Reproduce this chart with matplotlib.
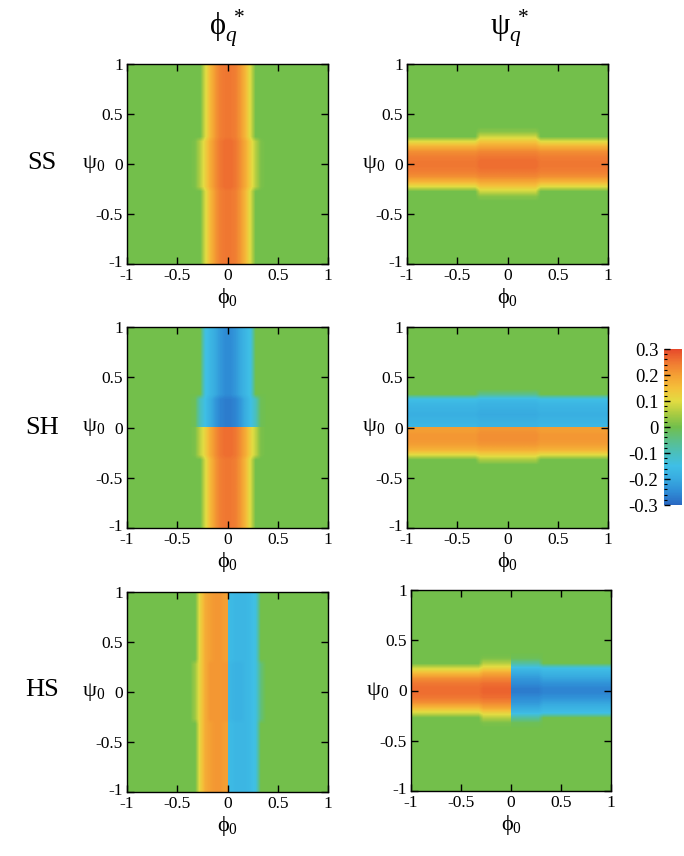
import numpy as np
import matplotlib
matplotlib.use("Agg")
import matplotlib.pyplot as plt
from matplotlib.colors import LinearSegmentedColormap, Normalize
from matplotlib.ticker import MultipleLocator
from matplotlib.transforms import ScaledTranslation

plt.rcParams["font.family"] = ["Liberation Serif", "DejaVu Serif"]
plt.rcParams["mathtext.fontset"] = "custom"
plt.rcParams["mathtext.rm"] = "Liberation Serif"
plt.rcParams["mathtext.it"] = "Liberation Serif:italic"
plt.rcParams["axes.unicode_minus"] = False

# cell centres of the 40x40 grid on [-1, 1]
centres = np.arange(-0.975, 1.0, 0.05)
# band cross-section cells: offsets -0.325 ... 0.325 (14 cells)
band_offsets = [-0.325, -0.275, -0.225, -0.175, -0.125, -0.075, -0.025,
                0.025, 0.075, 0.125, 0.175, 0.225, 0.275, 0.325]

# profiles across the band
# (core part of the band, and the slightly wider part near the band centre)
ss_phi_core = [0, 0, 0.09, 0.16, 0.21, 0.24, 0.25, 0.25, 0.24, 0.21, 0.16, 0.09, 0, 0]
ss_phi_bulge = [0.01, 0.06, 0.12, 0.18, 0.22, 0.25, 0.26, 0.26, 0.25, 0.22, 0.18, 0.12, 0.06, 0.01]

ss_psi_core = [0, 0, 0.10, 0.17, 0.22, 0.24, 0.25, 0.25, 0.24, 0.22, 0.17, 0.10, 0, 0]
ss_psi_bulge = [0.02, 0.08, 0.14, 0.19, 0.23, 0.25, 0.26, 0.26, 0.25, 0.23, 0.19, 0.14, 0.08, 0.02]

sh_phi_lo_core = [0, 0, 0.09, 0.16, 0.21, 0.24, 0.25, 0.25, 0.24, 0.21, 0.16, 0.09, 0, 0]
sh_phi_lo_bulge = [0.01, 0.07, 0.12, 0.18, 0.22, 0.25, 0.26, 0.26, 0.25, 0.22, 0.18, 0.12, 0.07, 0.01]
sh_phi_up_bulge = [-0.01, -0.10, -0.15, -0.19, -0.23, -0.26, -0.27, -0.27, -0.26, -0.23, -0.19, -0.15, -0.10, -0.01]
sh_phi_up_core = [0, 0, -0.14, -0.17, -0.20, -0.23, -0.25, -0.25, -0.23, -0.20, -0.17, -0.14, 0, 0]

sh_psi_core = [0, 0.10, 0.17, 0.20, 0.21, 0.21, 0.20, -0.17, -0.18, -0.19, -0.18, -0.17, -0.15, 0]
sh_psi_bulge = [0.05, 0.12, 0.18, 0.21, 0.22, 0.22, 0.21, -0.18, -0.19, -0.20, -0.19, -0.18, -0.16, -0.05]

hs_phi_core = [0, 0.12, 0.18, 0.20, 0.21, 0.21, 0.20, -0.16, -0.17, -0.17, -0.17, -0.16, -0.14, 0]
hs_phi_bulge = [0.04, 0.12, 0.18, 0.21, 0.21, 0.21, 0.21, -0.17, -0.18, -0.18, -0.17, -0.16, -0.14, -0.04]

hs_psi_lo_core = [0, 0, 0.09, 0.16, 0.22, 0.25, 0.26, 0.26, 0.25, 0.22, 0.16, 0.09, 0, 0]
hs_psi_lo_bulge = [0.01, 0.06, 0.12, 0.19, 0.23, 0.26, 0.27, 0.27, 0.26, 0.23, 0.19, 0.12, 0.06, 0.01]
hs_psi_up_bulge = [-0.01, -0.07, -0.16, -0.20, -0.23, -0.25, -0.27, -0.27, -0.25, -0.23, -0.20, -0.16, -0.07, -0.01]
hs_psi_up_core = [0, 0, -0.15, -0.18, -0.21, -0.24, -0.26, -0.26, -0.24, -0.21, -0.18, -0.15, 0, 0]

# (orientation, half length of the wide part, core-, bulge-, bulge+, core+)
panels = {
    ("SS", "phi"): ("v", 0.25, ss_phi_core, ss_phi_bulge, ss_phi_bulge, ss_phi_core),
    ("SS", "psi"): ("h", 0.30, ss_psi_core, ss_psi_bulge, ss_psi_bulge, ss_psi_core),
    ("SH", "phi"): ("v", 0.30, sh_phi_lo_core, sh_phi_lo_bulge, sh_phi_up_bulge, sh_phi_up_core),
    ("SH", "psi"): ("h", 0.30, sh_psi_core, sh_psi_bulge, sh_psi_bulge, sh_psi_core),
    ("HS", "phi"): ("v", 0.30, hs_phi_core, hs_phi_bulge, hs_phi_bulge, hs_phi_core),
    ("HS", "psi"): ("h", 0.30, hs_psi_lo_core, hs_psi_lo_bulge, hs_psi_up_bulge, hs_psi_up_core),
}

rows = ["SS", "SH", "HS"]

# axes boxes in pixels: left, top, right, bottom
boxes = {
    ("SS", "phi"): (127, 64, 328, 264), ("SS", "psi"): (407, 64, 608, 264),
    ("SH", "phi"): (127, 327, 328, 528), ("SH", "psi"): (407, 327, 608, 528),
    ("HS", "phi"): (127, 592, 328, 792), ("HS", "psi"): (411, 590, 611, 791),
}

cbar_ticks = [-0.3, -0.2, -0.1, 0, 0.1, 0.2, 0.3]
axis_ticks = [-1, -0.5, 0, 0.5, 1]
axis_ticklabels = ["-1", "-0.5", "0", "0.5", "1"]

cmap = LinearSegmentedColormap.from_list("field", [
    (0.0, "#2a68c2"), (0.0833, "#2f8dd6"), (0.1667, "#38abe0"), (0.25, "#3fbfe6"),
    (0.3333, "#4bbfbc"), (0.4167, "#5cbf88"), (0.5, "#72bf4c"), (0.5833, "#a9cb42"),
    (0.6667, "#e2dc42"), (0.75, "#f4c03a"), (0.8333, "#f4a034"), (0.9167, "#f07832"),
    (1.0, "#e6492a")])
norm = Normalize(-0.3, 0.3)


def build(orient, span, core_n, bulge_n, bulge_p, core_p):
    z = np.zeros((40, 40))
    start = int(round((band_offsets[0] - centres[0]) / 0.05))
    for i, c in enumerate(centres):
        if c < -span:
            prof = core_n
        elif c < 0:
            prof = bulge_n
        elif c < span:
            prof = bulge_p
        else:
            prof = core_p
        if orient == "v":
            z[i, start:start + len(prof)] = prof
        else:
            z[start:start + len(prof), i] = prof
    return z


W, H = 684, 856
fig = plt.figure(figsize=(W / 100, H / 100), dpi=100)

for key, (l, t, r, b) in boxes.items():
    ax = fig.add_axes([l / W, 1 - b / H, (r - l) / W, (b - t) / H])
    z = build(*panels[key])
    # four quadrants drawn apart so the sign changes at 0 stay sharp
    for ys, ye in [(0, 20), (20, 40)]:
        for xs, xe in [(0, 20), (20, 40)]:
            ax.imshow(z[ys:ye, xs:xe], cmap=cmap, norm=norm, origin="lower",
                      interpolation="bilinear", aspect="auto",
                      extent=(xs * 0.05 - 1, xe * 0.05 - 1, ys * 0.05 - 1, ye * 0.05 - 1))
    ax.set_xlim(-1, 1)
    ax.set_ylim(-1, 1)
    ax.set_xticks(axis_ticks)
    ax.set_xticklabels(axis_ticklabels)
    ax.set_yticks(axis_ticks)
    ax.set_yticklabels(axis_ticklabels)
    ax.tick_params(direction="in", top=True, right=True, length=5, width=1,
                   labelsize=12.5, colors="black")
    ax.tick_params(axis="x", pad=3)
    ax.tick_params(axis="y", pad=3)
    # lift the lowest y label a little, as in the original
    lab = ax.get_yticklabels()[0]
    lab.set_transform(lab.get_transform() + ScaledTranslation(0, 3 / 100, fig.dpi_scale_trans))
    for s in ax.spines.values():
        s.set_linewidth(1)
    xc = (l + r) / 2
    fig.text(xc / W, 1 - (b + 34) / H, r"$\mathrm{ϕ}_{0}$", ha="center", va="center", fontsize=16)
    fig.text((l - 33) / W, 1 - ((t + b) / 2) / H, r"$\mathrm{ψ}_{0}$", ha="center", va="center", fontsize=16)

# column titles and row labels
fig.text(227 / W, 1 - 28 / H, r"$\mathrm{ϕ}_{q}^{\ *}$", ha="center", va="center", fontsize=22)
fig.text(510 / W, 1 - 28 / H, r"$\mathrm{ψ}_{q}^{\ *}$", ha="center", va="center", fontsize=22)
for name, yc in zip(rows, [163, 428, 690]):
    fig.text(42 / W, 1 - yc / H, name, ha="center", va="center", fontsize=19)

# colour bar
cax = fig.add_axes([664 / W, 1 - 505 / H, 18 / W, 156 / H])
cb = fig.colorbar(plt.cm.ScalarMappable(norm=norm, cmap=cmap), cax=cax)
cb.outline.set_visible(False)
cax.yaxis.set_ticks_position("left")
cax.yaxis.set_label_position("left")
cb.set_ticks(cbar_ticks)
cb.set_ticklabels([f"{v:g}" for v in cbar_ticks])
cax.yaxis.set_minor_locator(MultipleLocator(0.02))
cax.tick_params(which="major", direction="in", length=4, width=1, labelsize=13.5, pad=4)
cax.tick_params(which="minor", direction="in", length=2, width=0.8)

fig.savefig("out.png", dpi=100)
